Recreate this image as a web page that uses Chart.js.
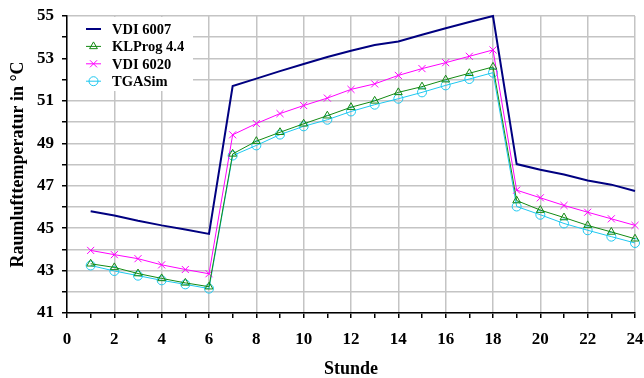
<!DOCTYPE html>
<html>
<head>
<meta charset="utf-8">
<script src="https://cdn.jsdelivr.net/npm/chart.js@4/dist/chart.umd.min.js"></script>
<style>
html,body{margin:0;padding:0;background:#fff;}
#wrap{width:644px;height:378px;position:relative;}
</style>
</head>
<body>
<div id="wrap"><canvas id="c" width="644" height="378"></canvas></div>
<script>
const hours = [1,2,3,4,5,6,7,8,9,10,11,12,13,14,15,16,17,18,19,20,21,22,23,24];
const vdi6007 = [45.8,45.6,45.35,45.13,44.94,44.73,51.7,52.05,52.4,52.74,53.07,53.36,53.63,53.8,54.12,54.42,54.72,55.0,48.02,47.75,47.53,47.25,47.05,46.75];
const klprog  = [43.32,43.15,42.86,42.63,42.42,42.24,48.5,49.1,49.52,49.92,50.3,50.7,51.0,51.4,51.67,52.0,52.3,52.6,46.3,45.85,45.5,45.13,44.82,44.5];
const vdi6020 = [43.95,43.75,43.56,43.27,43.05,42.85,49.4,49.93,50.4,50.78,51.13,51.54,51.8,52.2,52.52,52.8,53.1,53.4,46.79,46.43,46.07,45.75,45.44,45.13];
const tgasim  = [43.24,42.98,42.76,42.54,42.35,42.15,48.42,48.9,49.41,49.8,50.11,50.5,50.82,51.1,51.4,51.73,52.03,52.33,46.02,45.63,45.22,44.9,44.6,44.3];
const seriesNames = ['VDI 6007','KLProg 4.4','VDI 6020','TGASim'];
const xTitle = 'Stunde';
const yTitle = 'Raumlufttemperatur in \u00B0C';

const FONT = '"Liberation Serif", "Times New Roman", serif';
const pts = arr => arr.map((v,i)=>({x:hours[i], y:v}));

const legendPlugin = {
  id:'customLegend',
  afterDatasetsDraw(chart){
    const ctx = chart.ctx;
    const ca = chart.chartArea;
    ctx.save();
    ctx.fillStyle = '#fff';
    ctx.fillRect(ca.left+1, ca.top+1, 125, 74);
    chart.data.datasets.forEach((ds,i)=>{
      const y = ca.top + 13 + i*17.4;
      const x0 = ca.left + 19, x1 = ca.left + 34;
      ctx.strokeStyle = ds.borderColor;
      ctx.lineWidth = ds.borderWidth;
      ctx.beginPath(); ctx.moveTo(x0,y); ctx.lineTo(x1,y); ctx.stroke();
      if (ds.pointStyle && ds.pointRadius>0){
        ctx.fillStyle = 'rgba(0,0,0,0)';
        ctx.strokeStyle = ds.borderColor;
        ctx.lineWidth = 1;
        Chart.helpers.drawPoint(ctx, {pointStyle: ds.pointStyle, radius: ds.pointRadius, borderWidth: 1, rotation:0}, (x0+x1)/2, y);
      }
      ctx.font = 'bold 14.5px ' + FONT;
      ctx.textBaseline = 'middle';
      ctx.fillStyle = '#000';
      ctx.fillText(ds.label, ca.left + 45, y+1);
    });
    ctx.restore();
  }
};

new Chart(document.getElementById('c'), {
  type:'line',
  data:{
    datasets:[
      {label:seriesNames[0], data:pts(vdi6007), borderColor:'#000080', backgroundColor:'#000080', borderWidth:2, pointRadius:0, pointStyle:false, tension:0, clip:false},
      {label:seriesNames[1], data:pts(klprog), borderColor:'#138a13', backgroundColor:'transparent', borderWidth:1, pointStyle:'triangle', pointRadius:4.5, pointBorderWidth:1, pointBackgroundColor:'rgba(0,0,0,0)', tension:0, clip:false},
      {label:seriesNames[2], data:pts(vdi6020), borderColor:'#ff00ff', backgroundColor:'transparent', borderWidth:1, pointStyle:'crossRot', pointRadius:5, pointBorderWidth:1, tension:0, clip:false},
      {label:seriesNames[3], data:pts(tgasim), borderColor:'#1ec8f0', backgroundColor:'transparent', borderWidth:1, pointStyle:'circle', pointRadius:4.5, pointBorderWidth:1, pointBackgroundColor:'rgba(0,0,0,0)', tension:0, clip:false}
    ]
  },
  options:{
    responsive:false,
    animation:false,
    devicePixelRatio:1,
    layout:{padding:{top:16,right:9,left:0,bottom:0}},
    plugins:{legend:{display:false}, tooltip:{enabled:false}},
    scales:{
      x:{
        type:'linear', min:0, max:24,
        afterFit(s){ s.height = 65; s.paddingRight = 0; s.paddingLeft = 0; },
        border:{color:'#000', width:1.5},
        grid:{
          color: c => (c.tick && c.tick.value%2===0) ? '#c4c4c4' : 'rgba(0,0,0,0)',
          lineWidth:1.5, tickColor:'#000', tickLength:5, drawTicks:true
        },
        ticks:{stepSize:1, autoSkip:false, maxRotation:0, color:'#000', padding:11,
          font:{family:FONT, size:17, weight:'bold', lineHeight:1.2},
          callback:v => v%2===0 ? String(v) : ''},
        title:{display:true, text:xTitle, color:'#000', font:{family:FONT, size:18, weight:'bold', lineHeight:1.0}, padding:{top:0,bottom:0}}
      },
      y:{
        type:'linear', min:41, max:55,
        afterFit(s){ s.width = 67; s.paddingTop = 0; s.paddingBottom = 0; },
        border:{color:'#000', width:1.5},
        grid:{color:'#c4c4c4', lineWidth:1.5, tickColor:'#000', tickLength:5},
        ticks:{stepSize:1, autoSkip:false, color:'#000', padding:8,
          font:{family:FONT, size:17, weight:'bold'},
          callback:v => v%2===1 ? String(v) : ''},
        title:{display:true, text:yTitle, color:'#000', font:{family:FONT, size:18, weight:'bold', lineHeight:1.0}, padding:{top:9,bottom:0}}
      }
    }
  },
  plugins:[legendPlugin]
});
</script>
</body>
</html>
